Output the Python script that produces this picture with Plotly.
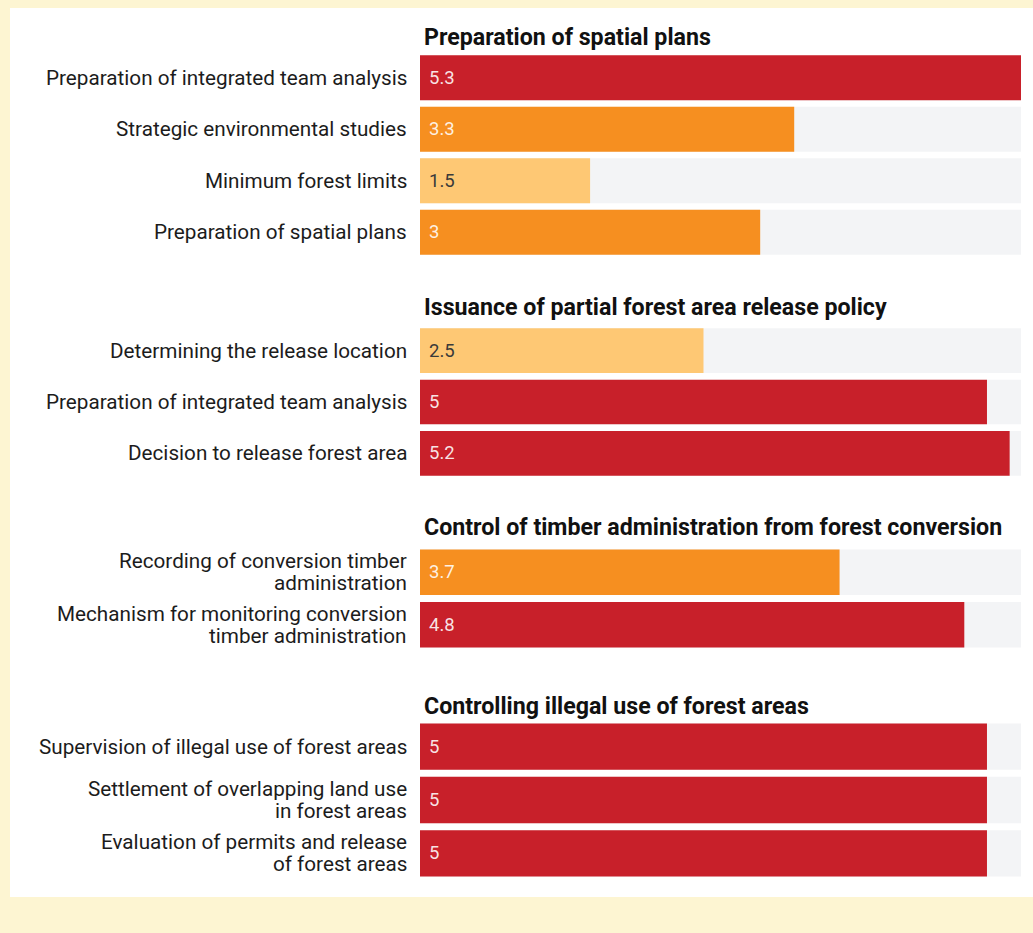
import plotly.graph_objects as go

W, H = 1033, 933

# ---- data -------------------------------------------------------------
group_titles = [
    "Preparation of spatial plans",
    "Issuance of partial forest area release policy",
    "Control of timber administration from forest conversion",
    "Controlling illegal use of forest areas",
]

spatial_labels = [
    "Preparation of integrated team analysis",
    "Strategic environmental studies",
    "Minimum forest limits",
    "Preparation of spatial plans",
]
spatial_values = [5.3, 3.3, 1.5, 3]

release_labels = [
    "Determining the release location",
    "Preparation of integrated team analysis",
    "Decision to release forest area",
]
release_values = [2.5, 5, 5.2]

timber_labels = [
    "Recording of conversion timber<br>administration",
    "Mechanism for monitoring conversion<br>timber administration",
]
timber_values = [3.7, 4.8]

illegal_labels = [
    "Supervision of illegal use of forest areas",
    "Settlement of overlapping land use<br>in forest areas",
    "Evaluation of permits and release<br>of forest areas",
]
illegal_values = [5, 5, 5]

group_labels = [spatial_labels, release_labels, timber_labels, illegal_labels]
group_values = [spatial_values, release_values, timber_values, illegal_values]

# ---- styling ----------------------------------------------------------
RED, ORANGE, LIGHT = "#C8202A", "#F68F20", "#FEC874"
TRACK = "#F3F4F6"
CREAM = "#FDF5D2"
FONT = "Roboto"
LABEL_SIZE = 20.7
LINE_GAP = 22  # px between lines of a wrapped category label


def tier_colour(v):
    if v >= 4.5:
        return RED
    if v >= 3:
        return ORANGE
    return LIGHT


def text_colour(v):
    return "#3a3a3a" if tier_colour(v) == LIGHT else "rgba(255,255,255,0.88)"


track_max = max(max(vals) for vals in group_values)

# vertical bands (pixels from top) that hold each group's bars
bands_px = [(52, 258), (325, 479), (546, 651), (720, 880)]
title_px = [37, 307, 527, 706]
x_domain = [420 / W, 1021 / W]


def py(p):
    return 1 - p / H


fig = go.Figure()
layout = {}
annotations = []

for i, (labels, vals) in enumerate(zip(group_labels, group_values)):
    n = i + 1
    xa = "x" if n == 1 else f"x{n}"
    ya = "y" if n == 1 else f"y{n}"
    xkey = "xaxis" if n == 1 else f"xaxis{n}"
    ykey = "yaxis" if n == 1 else f"yaxis{n}"

    fig.add_trace(go.Bar(
        x=[track_max] * len(labels), y=labels, orientation="h",
        marker=dict(color=TRACK, line=dict(width=0)),
        hoverinfo="skip", showlegend=False, xaxis=xa, yaxis=ya,
    ))
    fig.add_trace(go.Bar(
        x=vals, y=labels, orientation="h",
        marker=dict(color=[tier_colour(v) for v in vals], line=dict(width=0)),
        showlegend=False, xaxis=xa, yaxis=ya,
    ))

    top, bottom = bands_px[i]
    layout[xkey] = dict(
        domain=x_domain, range=[0, track_max], visible=False,
        anchor=ya, fixedrange=True,
    )
    layout[ykey] = dict(
        domain=[py(bottom), py(top)], type="category",
        categoryorder="array", categoryarray=labels,
        autorange="reversed", anchor=xa,
        showgrid=False, zeroline=False, showline=False, ticks="",
        showticklabels=False,
    )

    for lab, v in zip(labels, vals):
        # category label, right-aligned against the bar, one line per row of text
        lines = lab.split("<br>")
        for j, line in enumerate(lines):
            annotations.append(dict(
                x=0, y=lab, xref=xa, yref=ya, text=line,
                xanchor="right", yanchor="middle", xshift=-11,
                yshift=((len(lines) - 1) / 2 - j) * LINE_GAP,
                showarrow=False,
                font=dict(family=FONT, size=LABEL_SIZE, color="#1c1c1c"),
            ))
        # value printed at the start of the bar
        annotations.append(dict(
            x=0, y=lab, xref=xa, yref=ya, text=f"{v:g}",
            xanchor="left", yanchor="middle", xshift=7, showarrow=False,
            font=dict(family=FONT, size=18.5, color=text_colour(v)),
        ))

    annotations.append(dict(
        x=424 / W, y=py(title_px[i]), xref="paper", yref="paper",
        text=f"<b>{group_titles[i]}</b>", xanchor="left", yanchor="middle",
        showarrow=False, xshift=-2,
        font=dict(family=FONT, size=23.2, color="#111111", weight=900),
    ))

fig.update_layout(
    width=W, height=H,
    margin=dict(l=0, r=0, t=0, b=0),
    paper_bgcolor=CREAM, plot_bgcolor="rgba(0,0,0,0)",
    barmode="overlay", bargap=0.13,
    annotations=annotations,
    shapes=[dict(
        type="rect", xref="paper", yref="paper", layer="below",
        x0=10 / W, x1=1, y0=py(897), y1=py(8),
        fillcolor="white", line=dict(width=0),
    )],
    **layout,
)

fig.write_html("out.html", config={"displayModeBar": False})
